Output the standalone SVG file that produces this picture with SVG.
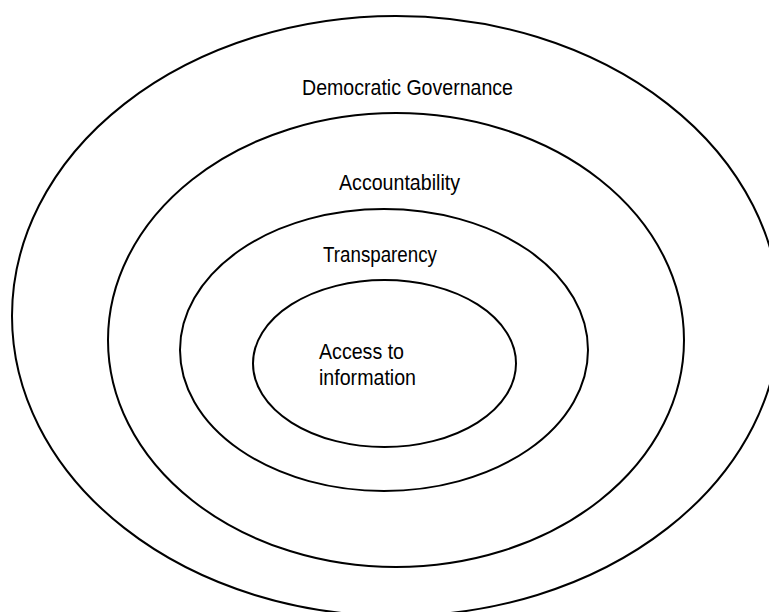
<svg xmlns="http://www.w3.org/2000/svg" width="769" height="612" viewBox="0 0 769 612">
  <style>
    .ring { fill: none; stroke: #000; stroke-width: 2; }
    .lbl { font-family: "Liberation Sans", Arial, sans-serif; font-size: 22px; fill: #000; }
  </style>
  <rect width="769" height="612" fill="#fff"/>
  <!-- nested layers, outermost first -->
  <g id="democratic-governance">
    <ellipse class="ring" cx="396" cy="316" rx="384" ry="300"/>
    <text class="lbl" x="302" y="95" textLength="211" lengthAdjust="spacingAndGlyphs">Democratic Governance</text>
  </g>
  <g id="accountability">
    <ellipse class="ring" cx="396" cy="340" rx="288" ry="227"/>
    <text class="lbl" x="339" y="190" textLength="121" lengthAdjust="spacingAndGlyphs">Accountability</text>
  </g>
  <g id="transparency">
    <ellipse class="ring" cx="384" cy="350" rx="204" ry="141"/>
    <text class="lbl" x="323" y="262" textLength="114" lengthAdjust="spacingAndGlyphs">Transparency</text>
  </g>
  <g id="access-to-information">
    <ellipse class="ring" cx="384.5" cy="363.5" rx="131.5" ry="83.5"/>
    <text class="lbl" x="319" y="359" textLength="85" lengthAdjust="spacingAndGlyphs">Access to</text>
    <text class="lbl" x="319" y="385" textLength="97" lengthAdjust="spacingAndGlyphs">information</text>
  </g>
  <g id="connectors"/>
</svg>
